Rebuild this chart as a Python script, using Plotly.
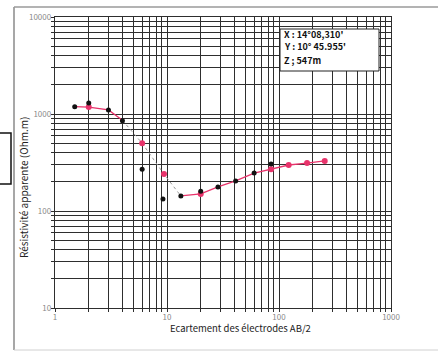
import plotly.graph_objects as go

# Measured apparent resistivity (Schlumberger sounding)
ab2_measured = [1.5, 2, 3, 4, 6, 9.2, 13.3, 20, 28.5, 41, 60, 85]
rho_measured = [1190, 1300, 1100, 850, 270, 133, 143, 160, 177, 204, 246, 305]

# Model (fitted) curve
ab2_model = [1.5, 2, 3, 4, 6, 9.4, 13.3, 20, 28.5, 41, 60, 85, 122, 178, 256]
rho_model = [1190, 1180, 1100, 860, 500, 240, 143, 150, 177, 204, 246, 270, 298, 312, 328]

# Model points drawn as red markers
ab2_model_pts = [2, 6, 9.4, 20, 85, 122, 178, 256]
rho_model_pts = [1180, 500, 240, 150, 270, 298, 312, 328]

x_tickvals = [1, 10, 100, 1000]
y_tickvals = [10, 100, 1000, 10000]

info_lines = ["X : 14°08,310'", "Y : 10° 45.955'", "Z ; 547m"]

RED = "#e8336b"
FONT = "Noto Sans CJK JP"

fig = go.Figure()

# Curve: red at the ends, faint dotted through the steep descent
i_a, i_b = 3, 6
red_x = ab2_model[: i_a + 1] + [None] + ab2_model[i_b:]
red_y = rho_model[: i_a + 1] + [None] + rho_model[i_b:]
fig.add_trace(go.Scatter(x=red_x, y=red_y, mode="lines",
                         line=dict(color=RED, width=1.3),
                         connectgaps=False, hoverinfo="skip"))
fig.add_trace(go.Scatter(x=ab2_model[i_a:i_b + 1], y=rho_model[i_a:i_b + 1],
                         mode="lines", line=dict(color="#9a9a9a", width=1, dash="dot"),
                         hoverinfo="skip"))

fig.add_trace(go.Scatter(x=ab2_model_pts, y=rho_model_pts, mode="markers",
                         marker=dict(color=RED, size=6)))
fig.add_trace(go.Scatter(x=ab2_measured, y=rho_measured, mode="markers",
                         marker=dict(color="#111111", size=5)))

grid = "#2e2e2e"
axis_common = dict(
    type="log", showgrid=True, gridcolor=grid, gridwidth=1.4,
    showline=True, linecolor=grid, linewidth=1.4, mirror=True,
    ticks="outside", ticklen=3, tickcolor=grid, ticklabelstandoff=-2,
    tickfont=dict(family=FONT, size=8, color="#8a8a8a"),
    minor=dict(dtick="D1", showgrid=True, gridcolor=grid, gridwidth=1.4,
               ticks="outside", ticklen=3, tickcolor=grid),
    zeroline=False,
)

fig.update_xaxes(range=[0, 3], tickvals=x_tickvals,
                 ticktext=[str(v) for v in x_tickvals], **axis_common)
fig.update_yaxes(range=[1, 4], tickvals=y_tickvals,
                 ticktext=[str(v) for v in y_tickvals], **axis_common)

W, H = 438, 352
L, R, T, B = 55, 391, 17, 308


def px(xp):
    return (xp - L) / (R - L)


def py(yp):
    return (B - yp) / (B - T)


shapes = [
    # outer frame
    dict(type="line", xref="paper", yref="paper", x0=px(14), x1=px(14), y0=py(7), y1=py(350),
         line=dict(color="#8a8a8a", width=1.5)),
    dict(type="line", xref="paper", yref="paper", x0=px(14), x1=px(440), y0=py(7), y1=py(7),
         line=dict(color="#9a9a9a", width=1.5)),
    dict(type="line", xref="paper", yref="paper", x0=px(14), x1=px(440), y0=py(350), y1=py(350),
         line=dict(color="#d0d0d0", width=1)),
    # small box at left edge
    dict(type="rect", xref="paper", yref="paper", x0=px(-5), x1=px(11), y0=py(184), y1=py(133),
         line=dict(color="#111111", width=1.5), fillcolor="rgba(0,0,0,0)"),
    # coordinates box
    dict(type="rect", xref="paper", yref="paper", x0=px(280), x1=px(379), y0=py(71), y1=py(29),
         line=dict(color="#222222", width=1), fillcolor="white", layer="above"),
]

annotations = []
for i, t in enumerate(info_lines):
    annotations.append(dict(xref="paper", yref="paper", x=px(282), y=py(34 + 13 * i),
                            xanchor="left", yanchor="middle", showarrow=False, text=t,
                            font=dict(family=FONT, size=9, color="#111111", weight="bold")))
annotations.append(dict(xref="paper", yref="paper", x=px(240), y=py(328),
                        xanchor="center", yanchor="middle", showarrow=False,
                        text="Ecartement des électrodes AB/2",
                        font=dict(family=FONT, size=9.5, color="#222222")))
annotations.append(dict(xref="paper", yref="paper", x=px(23), y=py(188),
                        xanchor="center", yanchor="middle", showarrow=False, textangle=-90,
                        text="Résistivité apparente (Ohm.m)",
                        font=dict(family=FONT, size=10, color="#222222")))

fig.update_layout(
    width=W, height=H,
    margin=dict(l=L, r=W - R, t=T, b=H - B),
    paper_bgcolor="white", plot_bgcolor="white",
    showlegend=False,
    shapes=shapes, annotations=annotations,
)

fig.write_html("out.html")
